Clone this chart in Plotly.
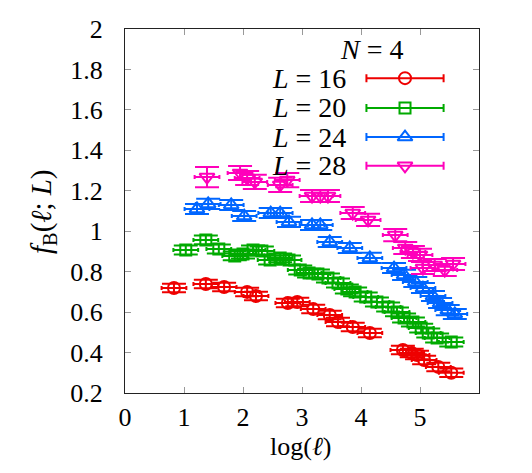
import plotly.graph_objects as go

# ---- data ----
red_x = [0.83, 1.37, 1.68, 2.07, 2.22, 2.76, 2.92, 3.19, 3.47, 3.61, 3.86, 4.15, 4.71, 4.86, 4.95, 5.07, 5.31, 5.53]
red_y = [0.719, 0.739, 0.724, 0.700, 0.680, 0.645, 0.650, 0.615, 0.586, 0.551, 0.526, 0.497, 0.413, 0.398, 0.388, 0.363, 0.329, 0.300]
red_ey = [0.021] * len(red_x)

green_x = [1.03, 1.37, 1.59, 1.86, 2.00, 2.17, 2.32, 2.46, 2.63, 2.78, 2.97, 3.12, 3.27, 3.44, 3.61, 3.76, 3.90,
           4.08, 4.27, 4.46, 4.61, 4.73, 4.88, 5.02, 5.14, 5.29, 5.53]
green_y = [0.907, 0.957, 0.912, 0.878, 0.887, 0.907, 0.902, 0.858, 0.868, 0.858, 0.808, 0.793, 0.789, 0.769, 0.744,
           0.714, 0.700, 0.675, 0.650, 0.625, 0.601, 0.571, 0.551, 0.521, 0.497, 0.472, 0.452]
green_ey = [0.022] * len(green_x)

blue_x = [1.22, 1.41, 1.80, 2.02, 2.47, 2.63, 2.78, 3.17, 3.31, 3.47, 3.81, 4.15, 4.56, 4.73, 4.92, 5.05, 5.22,
          5.34, 5.47, 5.59]
blue_y = [1.110, 1.135, 1.130, 1.075, 1.090, 1.090, 1.046, 1.031, 1.031, 0.947, 0.917, 0.868, 0.818, 0.784, 0.749,
          0.719, 0.680, 0.645, 0.610, 0.591]
blue_ey = [0.025] * len(blue_x)

mag_x = [1.39, 1.95, 2.07, 2.20, 2.63, 2.75, 3.17, 3.31, 3.44, 3.86, 4.12, 4.58, 4.75, 4.88, 5.00, 5.05, 5.25,
         5.42, 5.56]
mag_y = [1.268, 1.288, 1.263, 1.244, 1.229, 1.253, 1.174, 1.174, 1.174, 1.090, 1.056, 0.981, 0.917, 0.897, 0.883,
         0.818, 0.833, 0.808, 0.838]
mag_ey = [0.05, 0.035, 0.035, 0.035, 0.035, 0.035, 0.03, 0.03, 0.03, 0.03, 0.03, 0.03, 0.03, 0.03, 0.03, 0.03,
          0.03, 0.03, 0.03]

x_halfwidth = 0.21

series_names = ["<i>L</i> = 16", "<i>L</i> = 20", "<i>L</i> = 24", "<i>L</i> = 28"]
legend_title = "<i>N</i> = 4"
y_ticks = [0.2, 0.4, 0.6, 0.8, 1.0, 1.2, 1.4, 1.6, 1.8, 2.0]
y_ticktext = ["0.2", "0.4", "0.6", "0.8", "1", "1.2", "1.4", "1.6", "1.8", "2"]
x_ticks = [0, 1, 2, 3, 4, 5]

colors = ["#ee0000", "#00aa00", "#0066ff", "#ff00bb"]
symbols = ["circle-open", "square-open", "triangle-up-open", "triangle-down-open"]
sizes = [12, 11, 13, 13]

FONT = "Liberation Serif, Times New Roman, serif"

fig = go.Figure()
datasets = [(red_x, red_y, red_ey), (green_x, green_y, green_ey), (blue_x, blue_y, blue_ey), (mag_x, mag_y, mag_ey)]
for (xs, ys, eys), c, s, sz in zip(datasets, colors, symbols, sizes):
    fig.add_trace(go.Scatter(
        x=xs, y=ys, mode="markers",
        marker=dict(symbol=s, size=sz, color=c, line=dict(width=2, color=c)),
        error_x=dict(type="constant", value=x_halfwidth, color=c, thickness=2, width=2),
        error_y=dict(type="data", array=eys, color=c, thickness=2, width=12),
        showlegend=False,
    ))

# legend samples on an overlay axis spanning the plot area (0..1)
leg_y = [0.865, 0.783, 0.703, 0.624]
for i, (c, s, sz) in enumerate(zip(colors, symbols, sizes)):
    fig.add_trace(go.Scatter(
        x=[0.791], y=[leg_y[i]], mode="markers", xaxis="x2", yaxis="y2",
        marker=dict(symbol=s, size=sz, color=c, line=dict(width=2, color=c)),
        error_x=dict(type="constant", value=0.109, color=c, thickness=2, width=4),
        showlegend=False,
    ))
    fig.add_annotation(x=0.630, y=leg_y[i], xref="paper", yref="paper", text=series_names[i],
                       showarrow=False, xanchor="right", yanchor="middle",
                       font=dict(family=FONT, size=28, color="black"))

fig.add_annotation(x=0.695, y=0.945, xref="paper", yref="paper", text=legend_title, showarrow=False,
                   xanchor="center", yanchor="middle", font=dict(family=FONT, size=28, color="black"))

# axis titles
fig.add_annotation(x=-0.232, y=0.497, xref="paper", yref="paper",
                   text="<i>f</i><sub>B</sub>(<i>ℓ</i>; <i>L</i>)", textangle=-90, showarrow=False,
                   xanchor="center", yanchor="middle", font=dict(family=FONT, size=29, color="black"))
fig.add_annotation(x=0.497, y=-0.148, xref="paper", yref="paper", text="log(<i>ℓ</i>)", showarrow=False,
                   xanchor="center", yanchor="middle", font=dict(family=FONT, size=26, color="black"))

axis_common = dict(showline=True, linecolor="#222", linewidth=1, mirror="ticks", ticks="inside",
                   ticklen=6, tickcolor="#999", tickwidth=1, showgrid=False, zeroline=False,
                   tickfont=dict(family=FONT, size=26, color="black"))

fig.update_layout(
    width=532, height=473,
    margin=dict(l=125, r=53, t=29, b=80),
    plot_bgcolor="white", paper_bgcolor="white",
    font=dict(family=FONT),
    xaxis=dict(range=[0, 6], tickvals=x_ticks, ticklabelstandoff=1, **axis_common),
    yaxis=dict(range=[0.2, 2.0], tickvals=y_ticks, ticktext=y_ticktext, ticklabelstandoff=16, **axis_common),
    xaxis2=dict(range=[0, 1], overlaying="x", visible=False, fixedrange=True),
    yaxis2=dict(range=[0, 1], overlaying="y", visible=False, fixedrange=True),
)

fig.write_html("out.html")
